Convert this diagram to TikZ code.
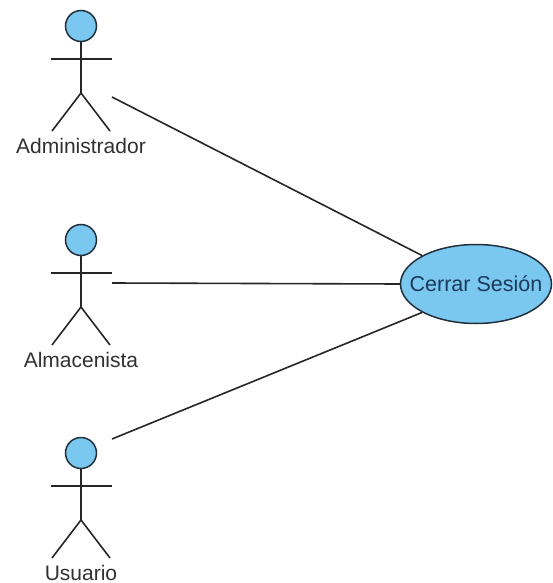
\documentclass[tikz,border=0pt]{standalone}
\usepackage{fontspec}
\setmainfont{Liberation Sans}
\usetikzlibrary{shapes.geometric}
\definecolor{ucfill}{RGB}{122,200,240}
\definecolor{ucline}{RGB}{34,48,62}
\definecolor{uctext}{RGB}{28,58,92}
\definecolor{lbltext}{RGB}{48,48,48}
\tikzset{
  stroke/.style={line width=1.6pt, draw=black!85},
  headstyle/.style={circle, draw=ucline, fill=ucfill, line width=1.5pt,
    minimum size=31pt, inner sep=0pt},
  lbl/.style={text=lbltext, font=\fontsize{21}{24}\selectfont, inner sep=0pt, anchor=base},
  usecase/.style={ellipse, draw=ucline, fill=ucfill, line width=1.5pt,
    minimum width=151pt, minimum height=79pt, inner sep=0pt},
  uctitle/.style={text=uctext, font=\fontsize{21.5}{24}\selectfont, inner sep=0pt},
  assoc/.style={line width=1.6pt, draw=black!85},
  pics/actor/.style={code={
    \node[headstyle] (-head) at (0,0) {};
    \draw[stroke] (-30,33) -- (31,33);
    \draw[stroke] (-head.south) -- (0,67);
    \draw[stroke] (-29,105) -- (0,67) -- (29,105);
    \node[lbl] (-label) at (0,127) {#1};
  }}
}
\begin{document}
\begin{tikzpicture}[x=1pt, y=-1pt]
  \useasboundingbox (0,0) rectangle (552,583);

  % actors
  \pic (adm) at (81,26) {actor=Administrador};
  \pic (alm) at (81,240) {actor=Almacenista};
  \pic (usr) at (81,453) {actor=Usuario};

  % use case
  \node[usecase] (uc) at (476,284) {};
  \node[uctitle] (ucText) at (uc.center) {Cerrar Sesión};

  % association ends beside each actor
  \coordinate (admEnd) at (112,97);
  \coordinate (almEnd) at (112,283);
  \coordinate (usrEnd) at (112,439);

  \draw[assoc] (admEnd) -- (uc.north west);
  \draw[assoc] (almEnd) -- (uc.west);
  \draw[assoc] (usrEnd) -- (uc.south west);
\end{tikzpicture}
\end{document}
